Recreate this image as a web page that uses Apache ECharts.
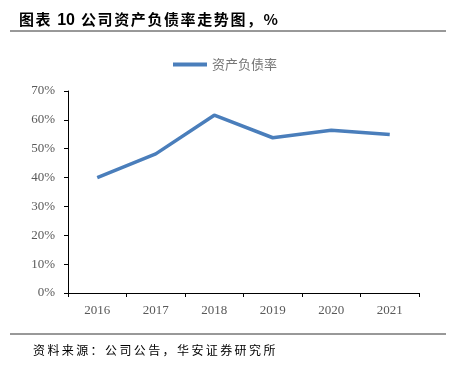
<!DOCTYPE html>
<html><head><meta charset="utf-8">
<script src="https://cdn.jsdelivr.net/npm/echarts@6/dist/echarts.min.js"></script>
<style>
html,body{margin:0;padding:0;background:#fff}
#wrap{position:relative;width:450px;height:369px}
#c{width:450px;height:369px}
.t{position:absolute;white-space:nowrap;font-family:"Noto Sans CJK SC";line-height:1}
#title{left:19px;top:11px;font-size:15px;font-weight:bold;letter-spacing:1.6px;color:#000}
#title .n{letter-spacing:0;margin-right:6px;font-family:"Liberation Sans";font-size:16px}
#src{left:33px;top:344px;font-size:12px;letter-spacing:2.4px;color:#000}
</style>
</head><body><div id="wrap"><div id="c"></div>
<div id="title" class="t"><span id="tA"></span> <span id="tN" class="n"></span><span id="tB"></span></div><div id="src" class="t"></div></div>
<script>
var categories = ['2016','2017','2018','2019','2020','2021'];
var seriesName = '资产负债率';
var values = [40.0, 48.2, 61.6, 53.8, 56.4, 54.9];
var yTicks = {min:0, max:70, interval:10};
var titleLabel = '图表';
var titleNumber = '10';
var titleText = '公司资产负债率走势图，%';
var sourceText = '资料来源：公司公告，华安证券研究所';

document.getElementById('tA').textContent = titleLabel;
document.getElementById('tN').textContent = titleNumber;
document.getElementById('tB').textContent = titleText;
document.getElementById('src').textContent = sourceText;

var chart = echarts.init(document.getElementById('c'));
chart.setOption({
  animation:false,
  backgroundColor:'#fff',
  legend:{
    top:53, left:'center',
    itemWidth:34, itemHeight:4, itemGap:6,
    icon:'rect',
    textStyle:{fontFamily:'Noto Sans CJK SC', fontSize:13, color:'#777'},
    data:[seriesName]
  },
  grid:{left:68, right:31, top:91, bottom:76},
  xAxis:{
    type:'category', data:categories, boundaryGap:true,
    axisLine:{lineStyle:{color:'#000', width:1}},
    axisTick:{show:true, length:4, lineStyle:{color:'#000'}},
    axisLabel:{fontFamily:'Liberation Serif', fontSize:13, color:'#595959', margin:11}
  },
  yAxis:{
    type:'value', min:yTicks.min, max:yTicks.max, interval:yTicks.interval,
    axisLine:{show:true, lineStyle:{color:'#000', width:1}},
    axisTick:{show:true, length:4, lineStyle:{color:'#000'}},
    splitLine:{show:false},
    axisLabel:{fontFamily:'Liberation Serif', fontSize:13, color:'#595959', margin:13, formatter:'{value}%'}
  },
  series:[{
    name:seriesName, type:'line', data:values,
    symbol:'none', lineStyle:{color:'#4a7ebb', width:3.5}, itemStyle:{color:'#4a7ebb'}
  }],
  graphic:[
    {type:'line', shape:{x1:10,y1:31,x2:446,y2:31}, style:{stroke:'#333', lineWidth:1}},
    {type:'line', shape:{x1:10,y1:334,x2:446,y2:334}, style:{stroke:'#333', lineWidth:1}}
  ]
});
</script></body></html>
